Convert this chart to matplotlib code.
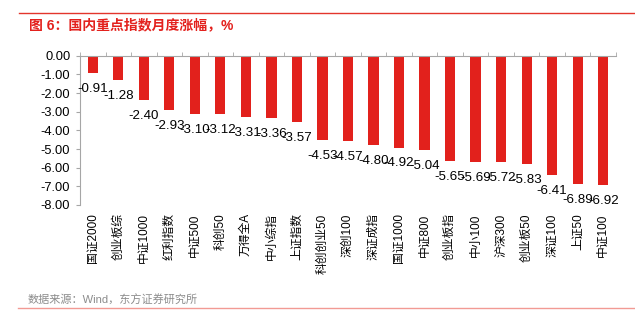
import matplotlib
matplotlib.use("Agg")
import matplotlib.pyplot as plt
from matplotlib.lines import Line2D
import numpy as np

plt.rcParams["font.family"] = ["Liberation Sans", "Noto Sans CJK SC"]

# monthly change of major domestic indices, %
indices = ["国证2000", "创业板综", "中证1000", "红利指数", "中证500", "科创50",
           "万得全A", "中小综指", "上证指数", "科创创业50", "深创100", "深证成指",
           "国证1000", "中证800", "创业板指", "中小100", "沪深300", "创业板50",
           "深证100", "上证50", "中证100"]
changes = [-0.91, -1.28, -2.40, -2.93, -3.10, -3.12, -3.31, -3.36, -3.57,
           -4.53, -4.57, -4.80, -4.92, -5.04, -5.65, -5.69, -5.72, -5.83,
           -6.41, -6.89, -6.92]
yticks = [0, -1, -2, -3, -4, -5, -6, -7, -8]

bar_red = "#E2211C"
axis_grey = "#A6A6A6"

fig = plt.figure(figsize=(6.35, 3.22), dpi=100)
ax = fig.add_axes([0.126, 0.3634, 0.844, 0.4636])

x = np.arange(len(indices))
ax.bar(x, changes, width=0.4, color=bar_red)

for xi, v in zip(x, changes):
    ax.annotate(f"{v:.2f}", (xi, v), xytext=(0, -11.5), textcoords="offset points",
                ha="center", va="center", fontsize=9.6, color="black")

ax.set_xlim(-0.5, len(indices) - 0.5)
ax.set_ylim(-8, 0)
ax.set_yticks(yticks)
ax.set_yticklabels([f"{t:.2f}" for t in yticks], fontsize=9.3)

ax.set_xticks(x)
ax.set_xticklabels(indices, rotation=90, fontsize=8.5, va="top")
ax.set_xticks(np.arange(len(indices) + 1) - 0.5, minor=True)
ax.tick_params(axis="x", which="major", length=0, pad=6)
ax.tick_params(axis="x", which="minor", top=True, bottom=False, direction="out",
               length=3, color=axis_grey)
ax.tick_params(axis="y", direction="out", length=3, color=axis_grey, pad=4)

for side in ["right", "bottom"]:
    ax.spines[side].set_visible(False)
for side in ["left", "top"]:
    ax.spines[side].set_color(axis_grey)
    ax.spines[side].set_linewidth(0.8)

# header and footer rules
fig.add_artist(Line2D([0.03, 1.0], [1 - 13 / 322] * 2, color="#E3352C", lw=1.0))
fig.add_artist(Line2D([0.028, 1.0], [1 - 308 / 322] * 2, color="#F29A94", lw=1.0))

fig.text(0.045, 1 - 25 / 322, "图 6：国内重点指数月度涨幅，%", color="#E3211D",
         fontsize=10, fontweight="bold", va="center", ha="left")
fig.text(0.044, 1 - 300 / 322, "数据来源：Wind，东方证券研究所", color="#8C8C8C",
         fontsize=8, va="center", ha="left")

fig.savefig("out.png", dpi=100)
